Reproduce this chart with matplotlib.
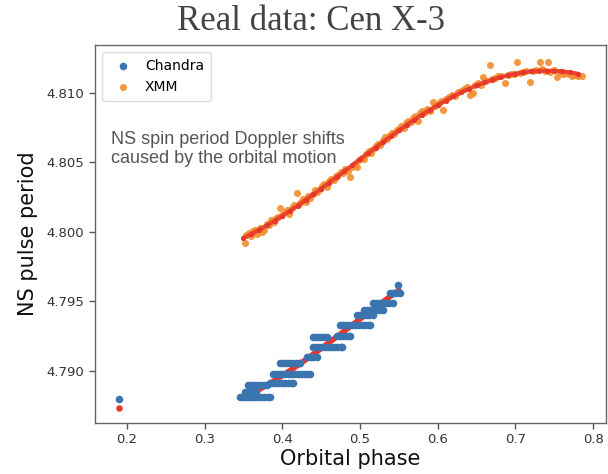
import matplotlib
matplotlib.use("Agg")
import matplotlib.pyplot as plt
import numpy as np

# ---------------- data ----------------
# Chandra pulse-period measurements (phase, period)
chandra_phase = [
    0.190,
    # run at 4.78815
    0.345, 0.349, 0.353, 0.357, 0.361, 0.365, 0.369, 0.373, 0.377, 0.381, 0.384,
    # run at 4.78850
    0.352, 0.356, 0.360, 0.364, 0.366,
    # run at 4.78899
    0.356, 0.360, 0.364, 0.368, 0.372, 0.376, 0.380,
    # run at 4.78914
    0.384, 0.388, 0.392, 0.396, 0.400, 0.404, 0.408, 0.412, 0.414,
    # run at 4.78980
    0.388, 0.392, 0.396, 0.400, 0.404, 0.408, 0.412, 0.416, 0.420, 0.424, 0.428, 0.432, 0.436,
    # run at 4.79058
    0.397, 0.401, 0.405, 0.409, 0.413, 0.417, 0.421, 0.423,
    # run at 4.79101
    0.432, 0.436, 0.440, 0.444,
    # run at 4.79173
    0.439, 0.443, 0.447, 0.451, 0.455, 0.459, 0.463, 0.467, 0.471, 0.475, 0.477,
    # run at 4.79245
    0.439, 0.443, 0.447, 0.451, 0.455, 0.457,
    # run at 4.79252
    0.470, 0.474, 0.478, 0.482, 0.486, 0.487,
    # run at 4.79331
    0.474, 0.478, 0.482, 0.486, 0.490, 0.494, 0.498, 0.502, 0.506, 0.510, 0.513,
    # run at 4.79403
    0.496, 0.500, 0.504, 0.508, 0.512, 0.517,
    # run at 4.79439
    0.505, 0.509, 0.513, 0.517, 0.521, 0.525, 0.530,
    # run at 4.79489
    0.517, 0.521, 0.525, 0.529, 0.533, 0.537, 0.542,
    # run at 4.79561
    0.538, 0.542, 0.546, 0.551,
    # top point
    0.549,
]
chandra_period = (
    [4.78799]
    + [4.78815] * 11
    + [4.78850] * 5
    + [4.78899] * 7
    + [4.78914] * 9
    + [4.78980] * 13
    + [4.79058] * 8
    + [4.79101] * 4
    + [4.79173] * 11
    + [4.79245] * 6
    + [4.79252] * 6
    + [4.79331] * 11
    + [4.79403] * 6
    + [4.79439] * 7
    + [4.79489] * 7
    + [4.79561] * 4
    + [4.79619]
)

xmm_phase = [
    0.352, 0.353, 0.357, 0.360, 0.362, 0.365, 0.368, 0.371, 0.374, 0.377,
    0.380, 0.383, 0.386, 0.389, 0.392, 0.395, 0.397, 0.400, 0.403, 0.406,
    0.409, 0.412, 0.415, 0.419, 0.421, 0.424, 0.427, 0.430, 0.433, 0.436,
    0.439, 0.442, 0.445, 0.448, 0.451, 0.454, 0.457, 0.460, 0.463, 0.466,
    0.469, 0.472, 0.475, 0.478, 0.481, 0.484, 0.487, 0.490, 0.493, 0.496,
    0.499, 0.502, 0.505, 0.508, 0.511, 0.514, 0.517, 0.520, 0.523, 0.526,
    0.529, 0.532, 0.535, 0.538, 0.541, 0.544, 0.547, 0.550, 0.553, 0.556,
    0.559, 0.562, 0.565, 0.568, 0.571, 0.574, 0.577, 0.580, 0.583, 0.586,
    0.590, 0.594, 0.597, 0.600, 0.604, 0.607, 0.610, 0.614, 0.618, 0.622,
    0.626, 0.630, 0.634, 0.638, 0.641, 0.645, 0.648, 0.652, 0.655, 0.658,
    0.662, 0.667, 0.670, 0.674, 0.678, 0.682, 0.686, 0.690, 0.694, 0.698,
    0.702, 0.706, 0.710, 0.714, 0.719, 0.722, 0.726, 0.731, 0.734, 0.738,
    0.742, 0.745, 0.749, 0.753, 0.757, 0.761, 0.765, 0.769, 0.773, 0.777,
    0.781, 0.785,
]
xmm_period = [
    4.79921, 4.79975, 4.79990, 4.79970, 4.80005, 4.80012, 4.79985, 4.80030, 4.80000, 4.80014,
    4.80060, 4.80050, 4.80085, 4.80070, 4.80100, 4.80110, 4.80173, 4.80125, 4.80140, 4.80160,
    4.80130, 4.80175, 4.80195, 4.80281, 4.80200, 4.80215, 4.80240, 4.80215, 4.80255, 4.80245,
    4.80275, 4.80300, 4.80285, 4.80310, 4.80330, 4.80345, 4.80320, 4.80365, 4.80380, 4.80372,
    4.80400, 4.80410, 4.80430, 4.80425, 4.80455, 4.80440, 4.80396, 4.80470, 4.80490, 4.80468,
    4.80515, 4.80535, 4.80525, 4.80560, 4.80580, 4.80570, 4.80600, 4.80615, 4.80635, 4.80625,
    4.80660, 4.80685, 4.80670, 4.80700, 4.80715, 4.80705, 4.80735, 4.80740, 4.80760, 4.80750,
    4.80785, 4.80800, 4.80790, 4.80820, 4.80835, 4.80800, 4.80855, 4.80870, 4.80860, 4.80885,
    4.80870, 4.80935, 4.80905, 4.80920, 4.80945, 4.80878, 4.80955, 4.80970, 4.80985, 4.80975,
    4.81005, 4.81015, 4.81030, 4.81040, 4.80986, 4.81000, 4.81055, 4.81070, 4.81060, 4.81115,
    4.81085, 4.81200, 4.81100, 4.81110, 4.81125, 4.81120, 4.81072, 4.81130, 4.81140, 4.81135,
    4.81222, 4.81145, 4.81150, 4.81160, 4.81079, 4.81155, 4.81165, 4.81222, 4.81170, 4.81160,
    4.81222, 4.81150, 4.81165, 4.81115, 4.81150, 4.81140, 4.81145, 4.81135, 4.81125, 4.81130,
    4.81120, 4.81125,
]

# Orbital model (red)
model_xmm_phase = [
    0.35, 0.36, 0.37, 0.38, 0.39, 0.40, 0.41, 0.42, 0.43, 0.44, 0.45,
    0.46, 0.47, 0.48, 0.49, 0.50, 0.51, 0.52, 0.53, 0.54, 0.55, 0.56,
    0.57, 0.58, 0.59, 0.60, 0.61, 0.62, 0.63, 0.64, 0.65, 0.66, 0.67,
    0.68, 0.69, 0.70, 0.71, 0.72, 0.73, 0.74, 0.75, 0.76, 0.77, 0.78,
]
model_xmm_period = [
    4.79956, 4.79984, 4.80015, 4.80047, 4.80080, 4.80116, 4.80152, 4.80190, 4.80230, 4.80270, 4.80311,
    4.80353, 4.80395, 4.80437, 4.80480, 4.80523, 4.80565, 4.80607, 4.80649, 4.80690, 4.80730, 4.80770,
    4.80808, 4.80844, 4.80880, 4.80913, 4.80945, 4.80976, 4.81004, 4.81030, 4.81054, 4.81076, 4.81095,
    4.81112, 4.81127, 4.81139, 4.81148, 4.81155, 4.81159, 4.81160, 4.81159, 4.81155, 4.81148, 4.81139,
]
model_chandra_phase = [
    0.35, 0.36, 0.37, 0.38, 0.39, 0.40, 0.41, 0.42, 0.43, 0.44, 0.45,
    0.46, 0.47, 0.48, 0.49, 0.50, 0.51, 0.52, 0.53, 0.54, 0.55,
]
model_chandra_period = [
    4.78806, 4.78834, 4.78865, 4.78897, 4.78930, 4.78966, 4.79002, 4.79040, 4.79080, 4.79120, 4.79161,
    4.79203, 4.79245, 4.79287, 4.79330, 4.79373, 4.79415, 4.79457, 4.79499, 4.79540, 4.79580,
]
model_single_phase = [0.190]
model_single_period = [4.78732]

xticks = [0.2, 0.3, 0.4, 0.5, 0.6, 0.7, 0.8]
yticks = [4.790, 4.795, 4.800, 4.805, 4.810]

# ---------------- plot ----------------
c_blue = "#3a75b0"
c_orange = "#f28e2f"
c_red = "#e8372a"

fig = plt.figure(figsize=(6.08, 4.74), dpi=100)
ax = fig.add_axes([0.156, 0.108, 0.841, 0.797])

ax.plot(model_chandra_phase, model_chandra_period, color=c_red, lw=4, zorder=1,
        solid_capstyle="round")
ax.scatter(model_single_phase, model_single_period, s=22, color=c_red, lw=0, zorder=1)
ax.scatter(chandra_phase, chandra_period, s=30, color=c_blue, lw=0, zorder=2, label="Chandra")
ax.scatter(xmm_phase, xmm_period, s=26, color=c_orange, lw=0, zorder=3, alpha=0.9, label="XMM")
ax.plot(model_xmm_phase, model_xmm_period, color=c_red, lw=3, zorder=4, alpha=0.85,
        solid_capstyle="round")
ax.scatter(model_xmm_phase, model_xmm_period, s=14, color=c_red, lw=0, zorder=4)

ax.set_xlim(0.1588, 0.8167)
ax.set_ylim(4.78626, 4.81345)
ax.set_xticks(xticks)
ax.set_xticklabels([f"{t:.1f}" for t in xticks])
ax.set_yticks(yticks)
ax.set_yticklabels([f"{t:.3f}" for t in yticks])
ax.tick_params(labelsize=9.5, colors="#555555", labelcolor="#333333", length=4, width=1)
for sp in ax.spines.values():
    sp.set_color("#666666")
    sp.set_linewidth(1.0)

ax.set_xlabel("Orbital phase", fontsize=15, color="#111111", labelpad=2)
ax.set_ylabel("NS pulse period", fontsize=15, color="#111111", labelpad=6)

leg = ax.legend(loc="upper left", fontsize=10, frameon=True, scatterpoints=1,
                borderpad=0.5, handletextpad=0.6, framealpha=1.0)
leg.get_frame().set_edgecolor("#dddddd")

ax.text(0.031, 0.772, "NS spin period Doppler shifts\ncaused by the orbital motion",
        transform=ax.transAxes, family="Liberation Sans", fontsize=13, color="#555555",
        va="top", ha="left", linespacing=1.15)

fig.text(0.512, 0.955, "Real data: Cen X-3", family="Liberation Serif", fontsize=25,
         color="#444444", ha="center", va="center")

fig.savefig("out.png", dpi=100)
